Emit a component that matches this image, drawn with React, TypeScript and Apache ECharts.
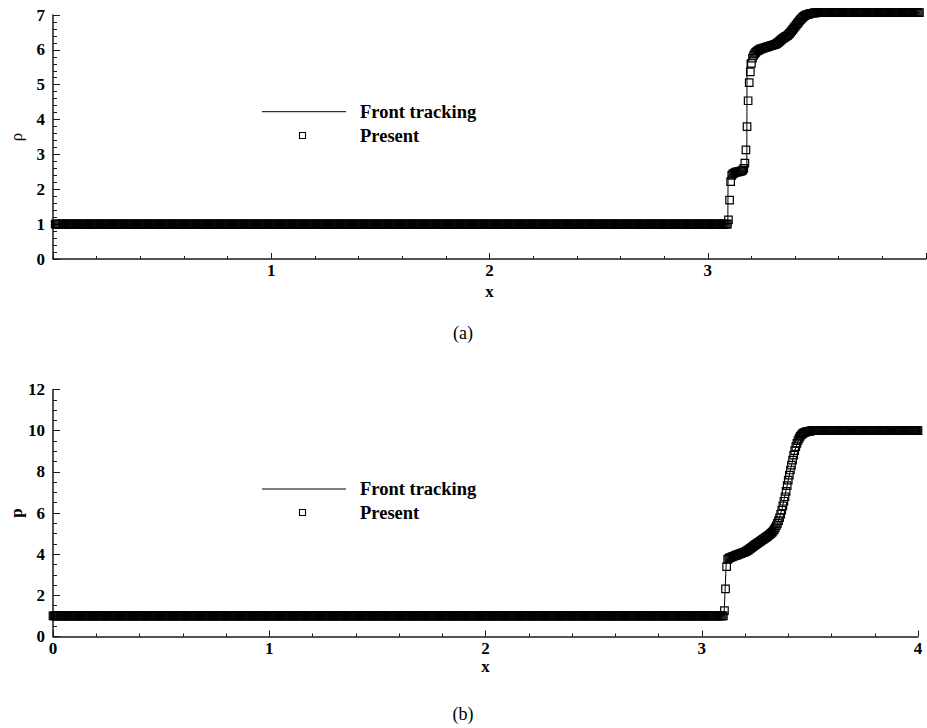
import React, { useEffect, useRef } from "react";
import * as echarts from "echarts";

// Cell spacing of the sampled solution
const DX = 0.005;

// x-extent of the sampled cells in each panel
const rhoCellRange = [0.01, 3.97];
const pCellRange = [0, 4];

// Uniform states to the left and right of the wave structure
const rhoStates = [1.0, 7.07];
const pStates = [1.0, 10.0];

// Density through the wave structure, one value per cell from rhoProfileStart on
const rhoProfileStart = 3.095;
const rhoProfile = [
  1.12, 1.69, 2.22, 2.4, 2.44, 2.46, 2.48, 2.49, 2.5, 2.5,
  2.51, 2.52, 2.53, 2.55, 2.6, 2.75, 3.13, 3.8, 4.54, 5.06,
  5.37, 5.61, 5.76, 5.84, 5.89, 5.93, 5.96, 5.98, 6.0, 6.02,
  6.03, 6.04, 6.05, 6.06, 6.07, 6.08, 6.09, 6.1, 6.11, 6.12,
  6.13, 6.14, 6.15, 6.16, 6.18, 6.2, 6.22, 6.25, 6.28, 6.31,
  6.33, 6.35, 6.37, 6.39, 6.41, 6.44, 6.47, 6.51, 6.55, 6.59,
  6.63, 6.67, 6.71, 6.75, 6.79, 6.83, 6.87, 6.9, 6.93, 6.96,
  6.98, 7.0, 7.01, 7.02, 7.03, 7.04, 7.05, 7.05, 7.06, 7.06,
  7.06, 7.07,
];

// Pressure through the wave structure, one value per cell from pProfileStart on
const pProfileStart = 3.105;
const pProfile = [
  1.26, 2.31, 3.39, 3.75, 3.8, 3.83, 3.85, 3.87, 3.89, 3.91,
  3.93, 3.95, 3.97, 3.99, 4.01, 4.03, 4.05, 4.07, 4.09, 4.11,
  4.14, 4.17, 4.2, 4.24, 4.28, 4.32, 4.36, 4.4, 4.44, 4.48,
  4.51, 4.55, 4.58, 4.62, 4.66, 4.7, 4.73, 4.76, 4.8, 4.84,
  4.88, 4.92, 4.96, 5.01, 5.06, 5.12, 5.19, 5.28, 5.38, 5.5,
  5.63, 5.77, 5.94, 6.14, 6.35, 6.57, 6.79, 7.05, 7.33, 7.6,
  7.84, 8.09, 8.33, 8.57, 8.81, 9.03, 9.22, 9.38, 9.52, 9.63,
  9.72, 9.79, 9.84, 9.88, 9.91, 9.93, 9.95, 9.96, 9.97, 9.98,
  9.99, 10.0,
];

// Front tracking reference solution (polyline vertices)
const rhoFrontX = [0.01, 3.092, 3.093, 3.1, 3.12, 3.14, 3.16, 3.175, 3.179, 3.18, 3.19, 3.2, 3.22, 3.25, 3.3, 3.33, 3.36, 3.4, 3.43, 3.45, 3.48, 3.5, 3.97];
const rhoFrontY = [1, 1, 2.36, 2.4, 2.46, 2.5, 2.55, 2.6, 2.62, 5.7, 5.78, 5.83, 5.93, 6.04, 6.14, 6.25, 6.39, 6.67, 6.9, 7.0, 7.05, 7.07, 7.07];
const pFrontX = [0, 3.103, 3.114, 3.13, 3.16, 3.2, 3.25, 3.3, 3.33, 3.35, 3.37, 3.4, 3.43, 3.45, 3.48, 3.51, 4];
const pFrontY = [1, 1, 3.76, 3.83, 3.95, 4.11, 4.48, 4.84, 5.12, 5.5, 6.14, 7.6, 9.03, 9.63, 9.93, 10.0, 10.0];

// Tick labels
const xLabelsTop = ["1", "2", "3"];
const xLabelsBottom = ["0", "1", "2", "3", "4"];
const rhoLabels = ["0", "1", "2", "3", "4", "5", "6", "7"];
const pLabels = ["0", "2", "4", "6", "8", "10", "12"];

const legendNames = ["Front tracking", "Present"];

function buildCells(range: number[], states: number[], start: number, profile: number[]) {
  const n = Math.round((range[1] - range[0]) / DX);
  const startIdx = Math.round((start - range[0]) / DX);
  const pts: number[][] = [];
  for (let i = 0; i <= n; i++) {
    const x = +(range[0] + i * DX).toFixed(4);
    const k = i - startIdx;
    const v = k < 0 ? states[0] : k < profile.length ? profile[k] : states[1];
    pts.push([x, v]);
  }
  return pts;
}

const zip = (xs: number[], ys: number[]) => xs.map((x, i) => [x, ys[i]]);

const FONT = "'Liberation Serif', 'Times New Roman', serif";
const INK = "#000";
const AXIS = "#1a1a1a";
const TICK_FONT = 17;

function xAxis(gridIndex: number, labels: string[], nameGap: number) {
  return {
    type: "value",
    gridIndex,
    min: 0,
    max: 4,
    interval: 1,
    axisLine: { show: true, onZero: false, lineStyle: { color: AXIS, width: 1.5 } },
    axisTick: { show: true, inside: true, length: 6, lineStyle: { color: AXIS, width: 1 } },
    minorTick: { show: true, splitNumber: 5, length: 3, lineStyle: { color: AXIS, width: 1 } },
    splitLine: { show: false },
    axisLabel: {
      margin: 3,
      color: INK,
      fontFamily: FONT,
      fontWeight: "bold",
      fontSize: TICK_FONT,
      showMinLabel: true,
      showMaxLabel: true,
      formatter: (v: number) => (labels.includes(String(v)) ? String(v) : ""),
    },
    name: "x",
    nameLocation: "middle",
    nameGap,
    nameMoveOverlap: false,
    nameTextStyle: { color: INK, fontFamily: FONT, fontWeight: "bold", fontSize: TICK_FONT },
  };
}

function yAxis(gridIndex: number, max: number, interval: number, minorSplit: number, labels: string[], name: string, bold: boolean) {
  return {
    type: "value",
    gridIndex,
    min: 0,
    max,
    interval,
    axisLine: { show: true, onZero: false, lineStyle: { color: AXIS, width: 1.5 } },
    axisTick: { show: true, inside: true, length: 7, lineStyle: { color: AXIS, width: 1 } },
    minorTick: { show: true, splitNumber: minorSplit, length: 4, lineStyle: { color: AXIS, width: 1 } },
    splitLine: { show: false },
    axisLabel: {
      margin: 8,
      color: INK,
      fontFamily: FONT,
      fontWeight: "bold",
      fontSize: TICK_FONT,
      formatter: (v: number) => (labels.includes(String(v)) ? String(v) : ""),
    },
    name,
    nameLocation: "middle",
    nameRotate: 90,
    nameGap: 28,
    nameMoveOverlap: false,
    nameTextStyle: { color: INK, fontFamily: FONT, fontWeight: bold ? "bold" : "normal", fontSize: TICK_FONT },
  };
}

function legendBlock(yLine: number, yMark: number) {
  const textStyle = { fill: INK, font: `bold 18.5px ${FONT}`, verticalAlign: "middle", align: "left" };
  return [
    { type: "line", shape: { x1: 262, y1: yLine, x2: 346, y2: yLine }, style: { stroke: INK, lineWidth: 1 } },
    { type: "text", x: 360, y: yLine, style: { ...textStyle, text: legendNames[0] } },
    { type: "rect", shape: { x: 299.5, y: yMark - 3, width: 6, height: 6 }, style: { fill: "none", stroke: INK, lineWidth: 1.1 } },
    { type: "text", x: 360, y: yMark, style: { ...textStyle, text: legendNames[1] } },
  ];
}

function caption(text: string, y: number) {
  return {
    type: "text",
    x: 463,
    y,
    style: { text, fill: INK, font: `18px ${FONT}`, align: "center", verticalAlign: "middle" },
  };
}

function scatterSeries(idx: number, data: number[][]) {
  return {
    type: "scatter",
    xAxisIndex: idx,
    yAxisIndex: idx,
    data,
    symbol: "rect",
    symbolSize: 7.5,
    clip: false,
    itemStyle: { color: "rgba(0,0,0,0)", borderColor: INK, borderWidth: 1.2, opacity: 1 },
    z: 3,
  };
}

function lineSeries(idx: number, data: number[][]) {
  return {
    type: "line",
    xAxisIndex: idx,
    yAxisIndex: idx,
    data,
    symbol: "none",
    showSymbol: false,
    clip: false,
    lineStyle: { color: INK, width: 1 },
    z: 2,
  };
}

export default function App() {
  const ref = useRef<HTMLDivElement>(null);

  useEffect(() => {
    if (!ref.current) return;
    const chart = echarts.init(ref.current, undefined, { renderer: "svg" });
    const rhoCells = buildCells(rhoCellRange, rhoStates, rhoProfileStart, rhoProfile);
    const pCells = buildCells(pCellRange, pStates, pProfileStart, pProfile);

    chart.setOption({
      animation: false,
      backgroundColor: "#fff",
      grid: [
        { left: 53, top: 15, width: 873, height: 244, containLabel: false, outerBoundsMode: "none" },
        { left: 53, top: 389.5, width: 865, height: 247, containLabel: false, outerBoundsMode: "none" },
      ],
      xAxis: [xAxis(0, xLabelsTop, 24), xAxis(1, xLabelsBottom, 21)],
      yAxis: [
        yAxis(0, 7, 1, 5, rhoLabels, "ρ", false),
        yAxis(1, 12, 2, 4, pLabels, "p", true),
      ],
      series: [
        lineSeries(0, zip(rhoFrontX, rhoFrontY)),
        scatterSeries(0, rhoCells),
        lineSeries(1, zip(pFrontX, pFrontY)),
        scatterSeries(1, pCells),
      ],
      graphic: [
        ...legendBlock(111.7, 135.5),
        ...legendBlock(489, 512.5),
        caption("(a)", 333),
        caption("(b)", 714),
      ],
    });
    return () => chart.dispose();
  }, []);

  return (
    <div
      ref={ref}
      style={{ position: "absolute", left: 0, top: 0, width: 927, height: 728, background: "#fff" }}
    />
  );
}
